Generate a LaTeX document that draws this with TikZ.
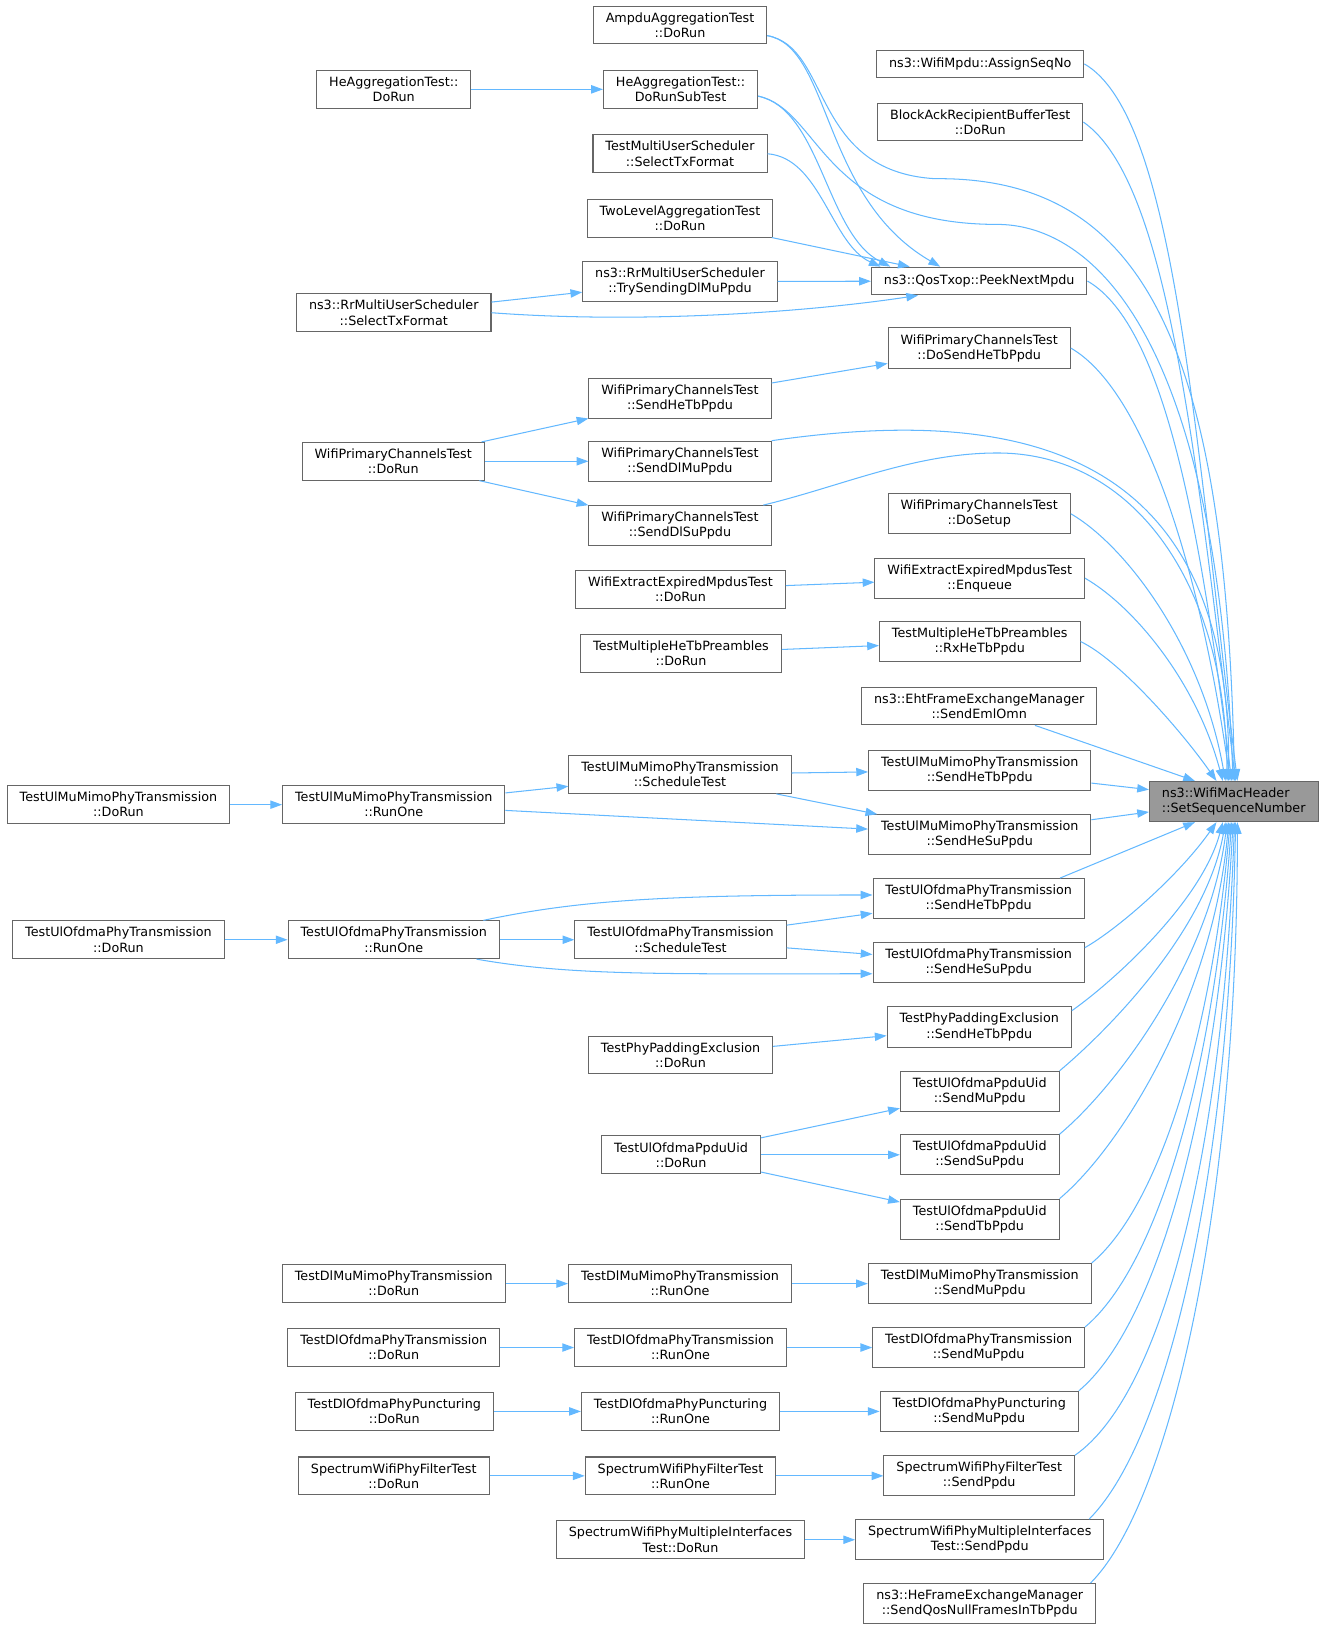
\documentclass[tikz,border=0pt]{standalone}
\usepackage{fontspec}
\setmainfont{DejaVu Sans}
\usetikzlibrary{arrows.meta}
\definecolor{edgeblue}{HTML}{63B8FF}
\definecolor{boxgray}{HTML}{666666}
\definecolor{rootgray}{HTML}{999999}

\begin{document}
\begin{tikzpicture}[x=0.75pt,y=-0.75pt,
    fn/.style={shape=rectangle,draw=boxgray,fill=white,line width=0.75pt,align=center,inner xsep=9pt,inner ysep=4.6pt,minimum height=20pt,font=\fontsize{9.2}{10.9}\selectfont},
    root/.style={fn,fill=rootgray,align=left},
    call/.style={-{Triangle[length=8.5pt,width=6pt]},color=edgeblue,line width=0.75pt}]
    \useasboundingbox (0,0) rectangle (1275.3,1566);

    \node[root] (t) at (1187.5,771.5) {ns3::WifiMacHeader\\::SetSequenceNumber};

    \node[fn] (seq) at (943.5,61.5) {ns3::WifiMpdu::AssignSeqNo};
    \node[fn] (bar) at (943.5,117.5) {BlockAckRecipientBufferTest\\::DoRun};
    \node[fn] (pnm) at (942.5,270.5) {ns3::QosTxop::PeekNextMpdu};
    \node[fn] (dsh) at (942.5,335) {WifiPrimaryChannelsTest\\::DoSendHeTbPpdu};
    \node[fn] (dst) at (942.5,494.5) {WifiPrimaryChannelsTest\\::DoSetup};
    \node[fn] (enq) at (943,556.5) {WifiExtractExpiredMpdusTest\\::Enqueue};
    \node[fn] (rxh) at (943,617.5) {TestMultipleHeTbPreambles\\::RxHeTbPpdu};
    \node[fn] (eml) at (942.5,679.5) {ns3::EhtFrameExchangeManager\\::SendEmlOmn};
    \node[fn] (umtb) at (943,741.5) {TestUlMuMimoPhyTransmission\\::SendHeTbPpdu};
    \node[fn] (umsu) at (943,803.5) {TestUlMuMimoPhyTransmission\\::SendHeSuPpdu};
    \node[fn] (uotb) at (942,865) {TestUlOfdmaPhyTransmission\\::SendHeTbPpdu};
    \node[fn] (uosu) at (942,926.5) {TestUlOfdmaPhyTransmission\\::SendHeSuPpdu};
    \node[fn] (ppe) at (942.5,988.5) {TestPhyPaddingExclusion\\::SendHeTbPpdu};
    \node[fn] (pmu) at (943,1050.5) {TestUlOfdmaPpduUid\\::SendMuPpdu};
    \node[fn] (psu) at (943,1111.5) {TestUlOfdmaPpduUid\\::SendSuPpdu};
    \node[fn] (ptb) at (943,1173.5) {TestUlOfdmaPpduUid\\::SendTbPpdu};
    \node[fn] (dmmu) at (943,1235.5) {TestDlMuMimoPhyTransmission\\::SendMuPpdu};
    \node[fn] (domu) at (942,1297) {TestDlOfdmaPhyTransmission\\::SendMuPpdu};
    \node[fn] (dpmu) at (942.5,1358.5) {TestDlOfdmaPhyPuncturing\\::SendMuPpdu};
    \node[fn] (fsp) at (942.5,1420.5) {SpectrumWifiPhyFilterTest\\::SendPpdu};
    \node[fn] (msp) at (943,1482) {SpectrumWifiPhyMultipleInterfaces\\Test::SendPpdu};
    \node[fn] (qos) at (943,1543.5) {ns3::HeFrameExchangeManager\\::SendQosNullFramesInTbPpdu};

    \node[fn] (ampdu) at (654.5,24) {AmpduAggregationTest\\::DoRun};
    \node[fn] (hesub) at (655,86) {HeAggregationTest::\\DoRunSubTest};
    \node[fn] (tmus) at (654.5,148) {TestMultiUserScheduler\\::SelectTxFormat};
    \node[fn] (tla) at (654.5,210) {TwoLevelAggregationTest\\::DoRun};
    \node[fn] (rrts) at (654.5,271) {ns3::RrMultiUserScheduler\\::TrySendingDlMuPpdu};
    \node[fn] (wsht) at (654.5,383.5) {WifiPrimaryChannelsTest\\::SendHeTbPpdu};
    \node[fn] (wsdm) at (654.5,444) {WifiPrimaryChannelsTest\\::SendDlMuPpdu};
    \node[fn] (wsds) at (654.5,506) {WifiPrimaryChannelsTest\\::SendDlSuPpdu};
    \node[fn] (eedr) at (655,567.5) {WifiExtractExpiredMpdusTest\\::DoRun};
    \node[fn] (mhdr) at (655.5,629) {TestMultipleHeTbPreambles\\::DoRun};
    \node[fn] (umst) at (654.5,745.5) {TestUlMuMimoPhyTransmission\\::ScheduleTest};
    \node[fn] (uost) at (655,904.5) {TestUlOfdmaPhyTransmission\\::ScheduleTest};
    \node[fn] (ppdr) at (655,1015.5) {TestPhyPaddingExclusion\\::DoRun};
    \node[fn] (uidr) at (655.5,1111.5) {TestUlOfdmaPpduUid\\::DoRun};
    \node[fn] (dmro) at (654.5,1235.5) {TestDlMuMimoPhyTransmission\\::RunOne};
    \node[fn] (doro) at (655,1297) {TestDlOfdmaPhyTransmission\\::RunOne};
    \node[fn] (dpro) at (655,1358.5) {TestDlOfdmaPhyPuncturing\\::RunOne};
    \node[fn] (fro) at (655,1420.5) {SpectrumWifiPhyFilterTest\\::RunOne};
    \node[fn] (mdr) at (655,1482) {SpectrumWifiPhyMultipleInterfaces\\Test::DoRun};

    \node[fn] (hedr) at (379,86) {HeAggregationTest::\\DoRun};
    \node[fn] (rrsel) at (379,301) {ns3::RrMultiUserScheduler\\::SelectTxFormat};
    \node[fn] (wpdr) at (378.5,444) {WifiPrimaryChannelsTest\\::DoRun};
    \node[fn] (umro) at (379,774.5) {TestUlMuMimoPhyTransmission\\::RunOne};
    \node[fn] (uoro) at (379,904.5) {TestUlOfdmaPhyTransmission\\::RunOne};
    \node[fn] (dmdr) at (379,1235.5) {TestDlMuMimoPhyTransmission\\::DoRun};
    \node[fn] (dodr) at (379,1297) {TestDlOfdmaPhyTransmission\\::DoRun};
    \node[fn] (dpdr) at (379.5,1358.5) {TestDlOfdmaPhyPuncturing\\::DoRun};
    \node[fn] (fdr) at (379,1420.5) {SpectrumWifiPhyFilterTest\\::DoRun};

    \node[fn] (umdr) at (114,774.5) {TestUlMuMimoPhyTransmission\\::DoRun};
    \node[fn] (uodr) at (114,904.5) {TestUlOfdmaPhyTransmission\\::DoRun};

    \path [call] (seq.east) edge[out=-30,in=97,out distance=75pt,in distance=260pt] (t.80);
    \path [call] (bar.east) edge[out=-35,in=97,out distance=75pt,in distance=240pt] (t.85);
    \draw [call] (ampdu.-7) .. controls (800,45) and (780,165) .. (900,172) .. controls (1100,170) and (1180,330) .. (t.88);
    \draw [call] (hesub.-5) .. controls (790,105) and (790,216) .. (960,216) .. controls (1040,216) and (1170,300) .. (t.92);
    \path [call] (pnm.east) edge[out=-30,in=97,out distance=65pt,in distance=180pt] (t.96);
    \path [call] (dsh.east) edge[out=-30,in=98,out distance=60pt,in distance=160pt] (t.100);
    \draw [call] (wsdm.north east) .. controls (980,390) and (1185,430) .. (t.104);
    \draw [call] ([xshift=-6pt]wsds.north east) .. controls (810,468) and (880,436) .. (960,436) .. controls (1090,436) and (1180,560) .. (t.108);
    \path [call] (dst.east) edge[out=-30,in=100,out distance=45pt,in distance=100pt] (t.112);
    \path [call] (enq.east) edge[out=-30,in=105,out distance=40pt,in distance=75pt] (t.118);
    \path [call] (rxh.east) edge[out=-25,in=125,out distance=30pt,in distance=45pt] (t.130);
    \path [call] (eml) edge (t.152);
    \path [call] (umtb) edge (t.172);
    \path [call] (umsu) edge (t.-173);
    \path [call] ([xshift=-18pt]uotb.north east) edge (t.-152);
    \path [call] (uosu.8) edge[out=30,in=-125,out distance=30pt,in distance=45pt] (t.-130);
    \path [call] (ppe.10) edge[out=35,in=-105,out distance=35pt,in distance=60pt] (t.-118);
    \path [call] (pmu.north east) edge[out=40,in=-100,out distance=45pt,in distance=80pt] (t.-112);
    \path [call] (psu.north east) edge[out=40,in=-97,out distance=55pt,in distance=100pt] (t.-108);
    \path [call] (ptb.north east) edge[out=40,in=-95,out distance=60pt,in distance=125pt] (t.-104);
    \path [call] (dmmu.north east) edge[out=40,in=-95,out distance=65pt,in distance=150pt] (t.-100);
    \path [call] (domu.north east) edge[out=40,in=-94,out distance=70pt,in distance=175pt] (t.-96);
    \path [call] (dpmu.north east) edge[out=40,in=-93,out distance=75pt,in distance=200pt] (t.-92);
    \path [call] (fsp.north east) edge[out=35,in=-92,out distance=80pt,in distance=230pt] (t.-88);
    \path [call] ([xshift=-11pt]msp.north east) edge[out=45,in=-91,out distance=80pt,in distance=255pt] (t.-85);
    \path [call] ([xshift=-4pt]qos.north east) edge[out=45,in=-90,out distance=80pt,in distance=280pt] (t.-80);

    \draw [call] (ampdu.-7) .. controls (800,45) and (790,190) .. ([xshift=50pt]pnm.north west);
    \draw [call] (hesub.-5) .. controls (790,105) and (795,225) .. ([xshift=14pt]pnm.north west);
    \draw [call] (tmus.east) .. controls (790,152) and (800,235) .. ([xshift=7pt]pnm.north west);
    \path [call] (tla) edge ([xshift=28pt]pnm.north west);
    \path [call] (rrts) edge (pnm);
    \draw [call] (rrsel.east) .. controls (620,312) and (780,300) .. ([xshift=34pt]pnm.south west);
    \path [call] (rrsel) edge (rrts);
    \path [call] (hedr) edge (hesub);
    \path [call] (wsht) edge (dsh);
    \path [call] (wpdr) edge (wsht);
    \path [call] (wpdr) edge (wsdm);
    \path [call] (wpdr) edge (wsds);
    \path [call] (eedr) edge (enq);
    \path [call] (mhdr) edge (rxh);
    \path [call] (umdr) edge (umro);
    \path [call] (umro) edge (umst);
    \path [call] (umro) edge (umsu);
    \path [call] (umst) edge (umtb);
    \path [call] (umst) edge (umsu);
    \path [call] (uodr) edge (uoro);
    \path [call] (uoro) edge (uost);
    \path [call] ([xshift=-12pt]uoro.north east) edge[out=12,in=180,out distance=70pt,in distance=150pt] (uotb.178);
    \path [call] ([xshift=-17pt]uoro.south east) edge[out=-10,in=180,out distance=70pt,in distance=150pt] (uosu.-174);
    \path [call] (uost) edge (uotb);
    \path [call] (uost) edge (uosu);
    \path [call] (ppdr) edge (ppe);
    \path [call] (uidr) edge (pmu);
    \path [call] (uidr) edge (psu);
    \path [call] (uidr) edge (ptb);
    \path [call] (dmdr) edge (dmro);
    \path [call] (dmro) edge (dmmu);
    \path [call] (dodr) edge (doro);
    \path [call] (doro) edge (domu);
    \path [call] (dpdr) edge (dpro);
    \path [call] (dpro) edge (dpmu);
    \path [call] (fdr) edge (fro);
    \path [call] (fro) edge (fsp);
    \path [call] (mdr) edge (msp);
\end{tikzpicture}
\end{document}
